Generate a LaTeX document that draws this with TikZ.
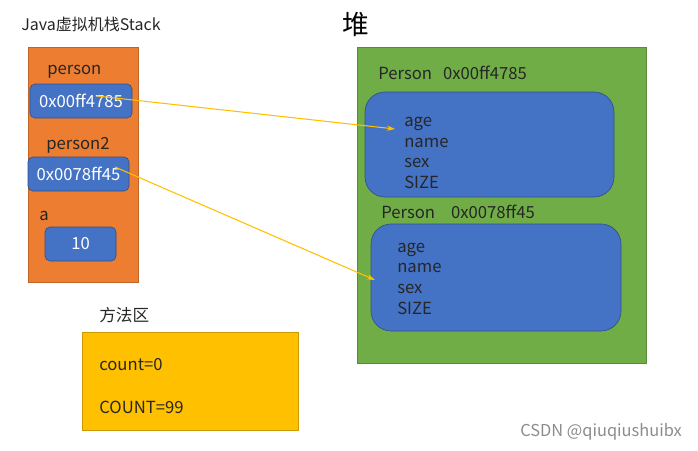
\documentclass[tikz,border=0pt]{standalone}
\usepackage{fontspec}
\setmainfont{Noto Sans CJK SC}
\usepackage{xcolor}
\usepackage{tikz}
\usetikzlibrary{arrows.meta}
\definecolor{stackorange}{RGB}{237,125,49}
\definecolor{heapgreen}{RGB}{112,173,71}
\definecolor{refblue}{RGB}{68,114,196}
\definecolor{areagold}{RGB}{255,192,0}
\definecolor{arrowgold}{RGB}{255,192,0}
\newlength\px
\setlength\px{0.75pt}

\begin{document}
\begin{tikzpicture}[x=0.75pt, y=-0.75pt,
  every node/.style={font=\fontsize{12.5}{15}\selectfont, inner sep=0pt},
  area/.style={rectangle, draw=#1!80!black, fill=#1, line width=0.5pt},
  refbox/.style={rectangle, rounded corners=5\px, draw=refblue!70!black, fill=refblue, text=white, line width=0.5pt},
  objbox/.style={rectangle, rounded corners=20\px, draw=refblue!70!black, fill=refblue, line width=0.5pt},
  label/.style={anchor=west, text=black!85},
  fields/.style={anchor=west, align=left, text=black!85, font=\fontsize{12.5}{15.5}\selectfont},
  pointer/.style={arrowgold, line width=0.8pt, -{Stealth[length=6pt, width=4pt]}}]
  \useasboundingbox (0,0) rectangle (698,450);

  % stack
  \node[label, font=\fontsize{12}{15}\selectfont] (stacktitle) at (21,24) {Java虚拟机栈Stack};
  \node[area=stackorange, minimum width=110\px, minimum height=235\px] (stack) at (83,164.5) {};
  \node[label] (lperson) at (47,72) {person};
  \node[refbox, minimum width=102\px, minimum height=34\px] (ref1) at (81,101) {0x00ff4785};
  \node[label] (lperson2) at (46,145) {person2};
  \node[refbox, minimum width=101\px, minimum height=34\px] (ref2) at (78.5,174) {0x0078ff45};
  \node[label] (la) at (39,216) {a};
  \node[refbox, minimum width=71\px, minimum height=34\px] (val) at (80.5,244) {10};

  % heap
  \node[font=\fontsize{20}{24}\selectfont] (heaptitle) at (356,24) {堆};
  \node[area=heapgreen, minimum width=289\px, minimum height=316\px] (heap) at (501.5,205) {};
  \node[label] (obj1title) at (378,73) {Person\hspace{11\px}0x00ff4785};
  \node[objbox, minimum width=249\px, minimum height=105\px] (obj1) at (489.5,144.5) {};
  \node[fields] (fields1) at (404,153) {age\\name\\sex\\SIZE};
  \node[label] (obj2title) at (381,212) {Person\hspace{16\px}0x0078ff45};
  \node[objbox, minimum width=250\px, minimum height=107\px] (obj2) at (496,277.5) {};
  \node[fields] (fields2) at (397,278.5) {age\\name\\sex\\SIZE};

  % method area
  \node[label] (areatitle) at (99,315) {方法区};
  \node[area=areagold, minimum width=216\px, minimum height=98\px] (method) at (190,381) {};
  \node[label] (count) at (99,365) {count=0};
  \node[label] (bigcount) at (99,407) {COUNT=99};

  \node[label, text=black!45, font=\fontsize{12.3}{14}\selectfont] (mark) at (520,432) {CSDN @qiuqiushuibx};

  % references
  \coordinate (from1) at (97,96);
  \coordinate (to1) at (395,129);
  \coordinate (from2) at (115,167);
  \coordinate (to2) at (375,280);
  \draw[pointer] (from1) -- (to1);
  \draw[pointer] (from2) -- (to2);
\end{tikzpicture}
\end{document}
